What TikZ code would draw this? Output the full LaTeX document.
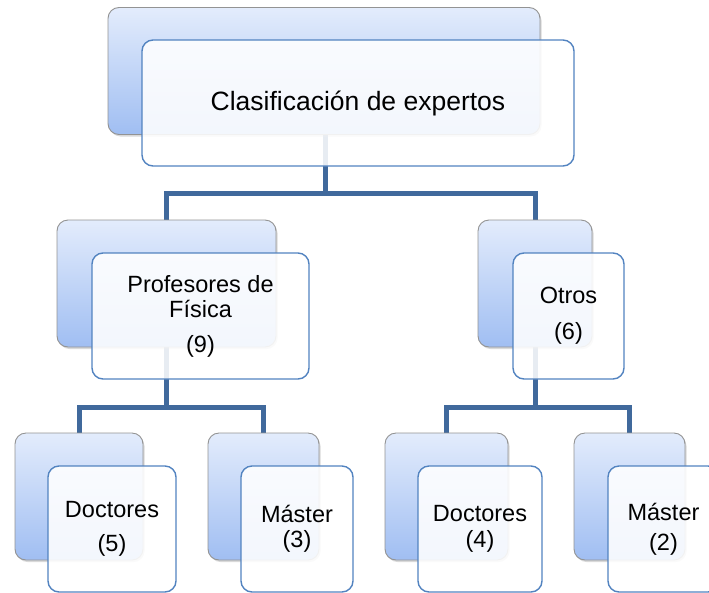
\documentclass[tikz,border=0pt]{standalone}
\usepackage{fontspec}
\setmainfont{Liberation Sans}
\usepackage{tikz}
\usetikzlibrary{positioning, calc, backgrounds, shadows}
\definecolor{linkblue}{HTML}{40699C}
\definecolor{frameblue}{HTML}{5283C0}
\definecolor{backtop}{HTML}{E3ECFC}
\definecolor{backbot}{HTML}{A0BEF2}
\tikzset{
  backbox/.style={rectangle, rounded corners=11pt, draw=gray!85, line width=0.9pt,
                  top color=backtop, bottom color=backbot,
                  drop shadow={shadow xshift=1.5pt, shadow yshift=-2pt, opacity=0.3},
                  minimum width=#1, minimum height=127pt, inner sep=0pt},
  backbox/.default=120pt,
  frontbox/.style={rectangle, rounded corners=11pt, draw=frameblue, line width=1.4pt,
                   fill=white, fill opacity=0.88, text opacity=1,
                   minimum width=#1, minimum height=126pt, inner sep=0pt, align=center,
                   font=\fontsize{23.5}{25}\selectfont},
  frontbox/.default=120pt,
  link/.style={draw=linkblue, line width=5pt, line join=miter},
}

\begin{document}
\begin{tikzpicture}[x=1pt, y=-1pt]
  \clip[use as bounding box] (0,0) rectangle (709,592);

  % level 1
  \node[backbox=432pt] (clasifBack) at (324,71) {};
  \node[frontbox=432pt, font=\fontsize{26.5}{30}\selectfont] (clasif) at (358,103) {Clasificación de expertos};

  % level 2
  \node[backbox=219pt] (profBack) at (166.5,283.5) {};
  \node[frontbox=217pt] (prof) at (200.5,316) {Profesores de\\Física\\[10pt](9)};
  \node[backbox=114pt] (otrosBack) at (535,283.5) {};
  \node[frontbox=111pt] (otros) at (568.5,316) {Otros\\[11pt](6)};

  % level 3
  \node[backbox=128pt] (docPBack) at (79,496.5) {};
  \node[frontbox=128pt] (docP) at (112,529) {Doctores\\[9pt](5)};
  \node[backbox=111pt] (masPBack) at (263.5,496.5) {};
  \node[frontbox=112pt] (masP) at (297,529) {Máster\\(3)};
  \node[backbox=123pt] (docOBack) at (446.5,496.5) {};
  \node[frontbox=124pt] (docO) at (480,529) {Doctores\\[1pt](4)};
  \node[backbox=111pt] (masOBack) at (629.5,496.5) {};
  \node[frontbox=111pt] (masO) at (663.5,529) {Máster\\[5pt](2)};

  \coordinate (j1) at (325,193);
  \coordinate (j2) at (166.5,407);
  \coordinate (j3) at (535,407);

  \begin{scope}[on background layer]
    \draw[link] (clasifBack.south -| j1) -- (j1) -| (profBack.north);
    \draw[link] (j1) -| (otrosBack.north);
    \draw[link] (profBack.south) -- (j2) -| (docPBack.north);
    \draw[link] (j2) -| (masPBack.north);
    \draw[link] (otrosBack.south) -- (j3) -| (docOBack.north);
    \draw[link] (j3) -| (masOBack.north);
  \end{scope}
\end{tikzpicture}
\end{document}
